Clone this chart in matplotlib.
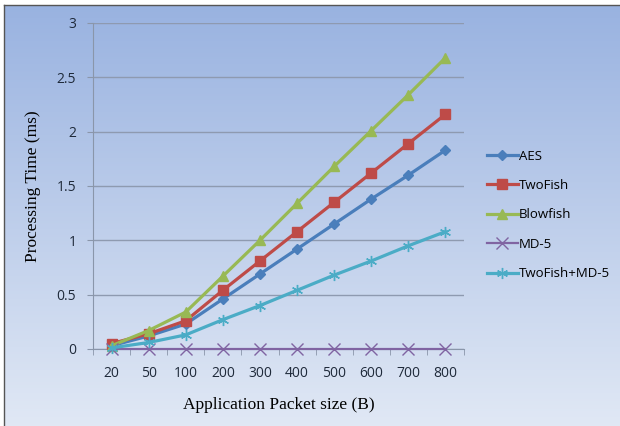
import numpy as np
import matplotlib.pyplot as plt

packet_sizes = ["20", "50", "100", "200", "300", "400", "500", "600", "700", "800"]
aes = [0.03, 0.12, 0.23, 0.46, 0.69, 0.92, 1.15, 1.38, 1.60, 1.83]
twofish = [0.05, 0.14, 0.26, 0.54, 0.81, 1.08, 1.35, 1.62, 1.89, 2.16]
blowfish = [0.03, 0.17, 0.34, 0.67, 1.00, 1.34, 1.68, 2.01, 2.34, 2.68]
md5 = [0, 0, 0, 0, 0, 0, 0, 0, 0, 0]
twofish_md5 = [0.01, 0.06, 0.13, 0.27, 0.40, 0.54, 0.68, 0.81, 0.95, 1.08]

series = [
    ("AES", aes, "#4a7ebb", "D", 5, 2.3),
    ("TwoFish", twofish, "#be4b48", "s", 7, 2.3),
    ("Blowfish", blowfish, "#98b954", "^", 7, 2.3),
    ("MD-5", md5, "#8064a2", "x", 8, 1.6),
    ("TwoFish+MD-5", twofish_md5, "#4bacc6", (6, 2, 0), 8, 2.3),
]

W, H = 620, 426
fig = plt.figure(figsize=(W / 100, H / 100), dpi=100)

# gradient chart area background
bg = fig.add_axes([4 / W, 0, 1 - 4 / W, 1 - 5 / H])
grad = np.linspace(0, 1, 256)[:, None]
top = np.array([0.60, 0.70, 0.88])
bottom = np.array([0.88, 0.91, 0.96])
img = top + (bottom - top) * grad[..., None]
bg.imshow(img, aspect="auto", extent=[0, 1, 0, 1])
bg.set_xticks([])
bg.set_yticks([])
for side in ["right", "bottom"]:
    bg.spines[side].set_visible(False)
for side in ["left", "top"]:
    bg.spines[side].set_color("#555555")
    bg.spines[side].set_linewidth(1)

ax = fig.add_axes([93 / W, 1 - 349 / H, 371 / W, 326 / H])
ax.patch.set_alpha(0)
x = np.arange(len(packet_sizes))
for name, vals, color, marker, ms, lw in series:
    ax.plot(x, vals, color=color, lw=lw, marker=marker, ms=ms,
            mec=color, mfc=color, mew=1.0, label=name,
            clip_on=False, zorder=3)

ax.set_xlim(-0.5, len(packet_sizes) - 0.5)
ax.set_ylim(0, 3)
ax.set_yticks(np.arange(0, 3.01, 0.5))
ax.set_yticklabels(["0", "0.5", "1", "1.5", "2", "2.5", "3"])
ax.set_xticks(x)
ax.set_xticklabels(packet_sizes)
ax.set_xticks(np.arange(-0.5, len(packet_sizes)), minor=True)
ax.tick_params(axis="x", which="major", length=0, pad=12)
ax.tick_params(axis="x", which="minor", length=4, color="#8a96aa", direction="out")
ax.tick_params(axis="y", length=4, color="#8a96aa", pad=8)
ax.tick_params(labelsize=10, labelcolor="#1f2a3a")
for lab in ax.get_xticklabels() + ax.get_yticklabels():
    lab.set_family("Open Sans")
ax.grid(axis="y", color="#8e9ab0", lw=1)
ax.set_axisbelow(True)
for side in ["top", "right"]:
    ax.spines[side].set_visible(False)
ax.spines["left"].set_color("#8a96aa")
ax.spines["bottom"].set_color("#8a96aa")

ax.set_xlabel("Application Packet size (B)", family="Liberation Serif",
              fontsize=12.5, labelpad=12)
ax.set_ylabel("Processing Time (ms)", family="Liberation Serif",
              fontsize=12.5, labelpad=11)

fig.legend(loc="center left", bbox_to_anchor=(482 / W, 1 - 215 / H),
           frameon=False, prop={"family": "Open Sans", "size": 9.5},
           handlelength=2.3, handletextpad=0.1, labelspacing=1.25,
           borderaxespad=0)

fig.savefig("out.png", dpi=100)
